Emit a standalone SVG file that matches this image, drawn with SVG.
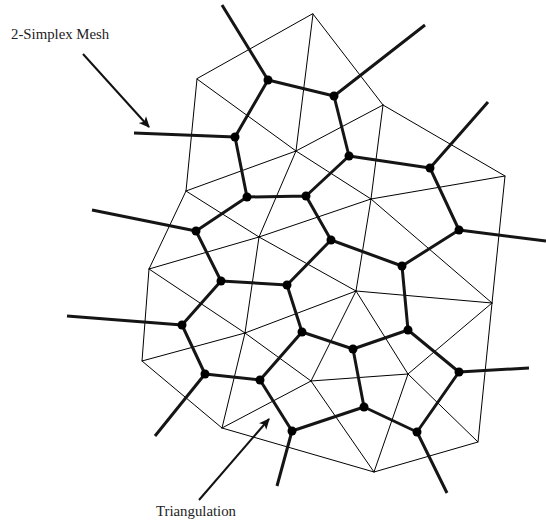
<svg xmlns="http://www.w3.org/2000/svg" width="546" height="525" viewBox="0 0 546 525">
<style>
.tri{stroke:#000;stroke-width:1;fill:none;stroke-linecap:round}
.mesh{stroke:#151515;stroke-width:3;fill:none;stroke-linecap:butt}
.dot{fill:#000}
.lbl{font-family:"Liberation Serif","Times New Roman",serif;font-size:14.8px;fill:#222}
.arr{stroke:#111;stroke-width:2;fill:none}
</style>
<defs>
<marker id="ah" viewBox="0 0 10 10" refX="9" refY="5" markerWidth="5.5" markerHeight="5.5" orient="auto" markerUnits="strokeWidth">
<path d="M0,0.5 L10,5 L0,9.5 L2.5,5 Z" fill="#111"/>
</marker>
</defs>
<g id="triangulation">
<path class="tri" d="M313,14 L383,105 L505,176 L492,303 L478,442 L374,472 L222,428 L142,361 L149,269 L186,191 L197,79 Z"/>
<path class="tri" d="M197,79 L296,151 M313,14 L296,151 M383,105 L296,151 M186,191 L296,151 M296,151 L259,237 M296,151 L371,199 M383,105 L371,199 M371,199 L505,176 M186,191 L259,237 M149,269 L259,237 M259,237 L371,199 M259,237 L356,291 M259,237 L245,333 M371,199 L356,291 M371,199 L492,303 M356,291 L492,303 M149,269 L245,333 M245,333 L356,291 M142,361 L245,333 M245,333 L222,428 M245,333 L311,381 M356,291 L311,381 M356,291 L408,374 M492,303 L408,374 M222,428 L311,381 M311,381 L408,374 M311,381 L374,472 M408,374 L374,472 M408,374 L478,442"/>
</g>
<g id="connectors">
<path class="mesh" d="M268,80 L334,96 M268,80 L235,137 M334,96 L349,156 M235,137 L247,197 M349,156 L430,168 M349,156 L306,196 M430,168 L459,230 M247,197 L306,196 M247,197 L196,231 M306,196 L331,240 M196,231 L221,281 M331,240 L402,266 M331,240 L287,285 M459,230 L402,266 M221,281 L287,285 M221,281 L182,325 M402,266 L408,330 M287,285 L302,332 M182,325 L205,374 M302,332 L353,349 M302,332 L260,380 M408,330 L353,349 M408,330 L459,372 M353,349 L364,407 M205,374 L260,380 M260,380 L292,431 M459,372 L417,432 M364,407 L292,431 M364,407 L417,432"/>
<path class="mesh" d="M268,80 L222,5 M334,96 L425,25 M430,168 L488,102 M459,230 L546,241 M459,372 L529,368 M417,432 L447,493 M292,431 L277,486 M205,374 L155,436 M182,325 L67,316 M196,231 L92,210 M235,137 L134,133"/>
</g>
<g id="nodes">
<circle class="dot" cx="268" cy="80" r="4.5"/>
<circle class="dot" cx="334" cy="96" r="4.5"/>
<circle class="dot" cx="235" cy="137" r="4.5"/>
<circle class="dot" cx="349" cy="156" r="4.5"/>
<circle class="dot" cx="430" cy="168" r="4.5"/>
<circle class="dot" cx="247" cy="197" r="4.5"/>
<circle class="dot" cx="306" cy="196" r="4.5"/>
<circle class="dot" cx="196" cy="231" r="4.5"/>
<circle class="dot" cx="331" cy="240" r="4.5"/>
<circle class="dot" cx="459" cy="230" r="4.5"/>
<circle class="dot" cx="221" cy="281" r="4.5"/>
<circle class="dot" cx="402" cy="266" r="4.5"/>
<circle class="dot" cx="287" cy="285" r="4.5"/>
<circle class="dot" cx="182" cy="325" r="4.5"/>
<circle class="dot" cx="302" cy="332" r="4.5"/>
<circle class="dot" cx="408" cy="330" r="4.5"/>
<circle class="dot" cx="353" cy="349" r="4.5"/>
<circle class="dot" cx="205" cy="374" r="4.5"/>
<circle class="dot" cx="260" cy="380" r="4.5"/>
<circle class="dot" cx="459" cy="372" r="4.5"/>
<circle class="dot" cx="364" cy="407" r="4.5"/>
<circle class="dot" cx="292" cy="431" r="4.5"/>
<circle class="dot" cx="417" cy="432" r="4.5"/>
</g>
<g id="label-mesh">
<text class="lbl" x="11" y="39">2-Simplex Mesh</text>
<path class="arr" d="M83,54 L149,127" marker-end="url(#ah)"/>
</g>
<g id="label-triangulation">
<text class="lbl" x="156" y="516">Triangulation</text>
<path class="arr" d="M199,500 L269,419" marker-end="url(#ah)"/>
</g>
</svg>
